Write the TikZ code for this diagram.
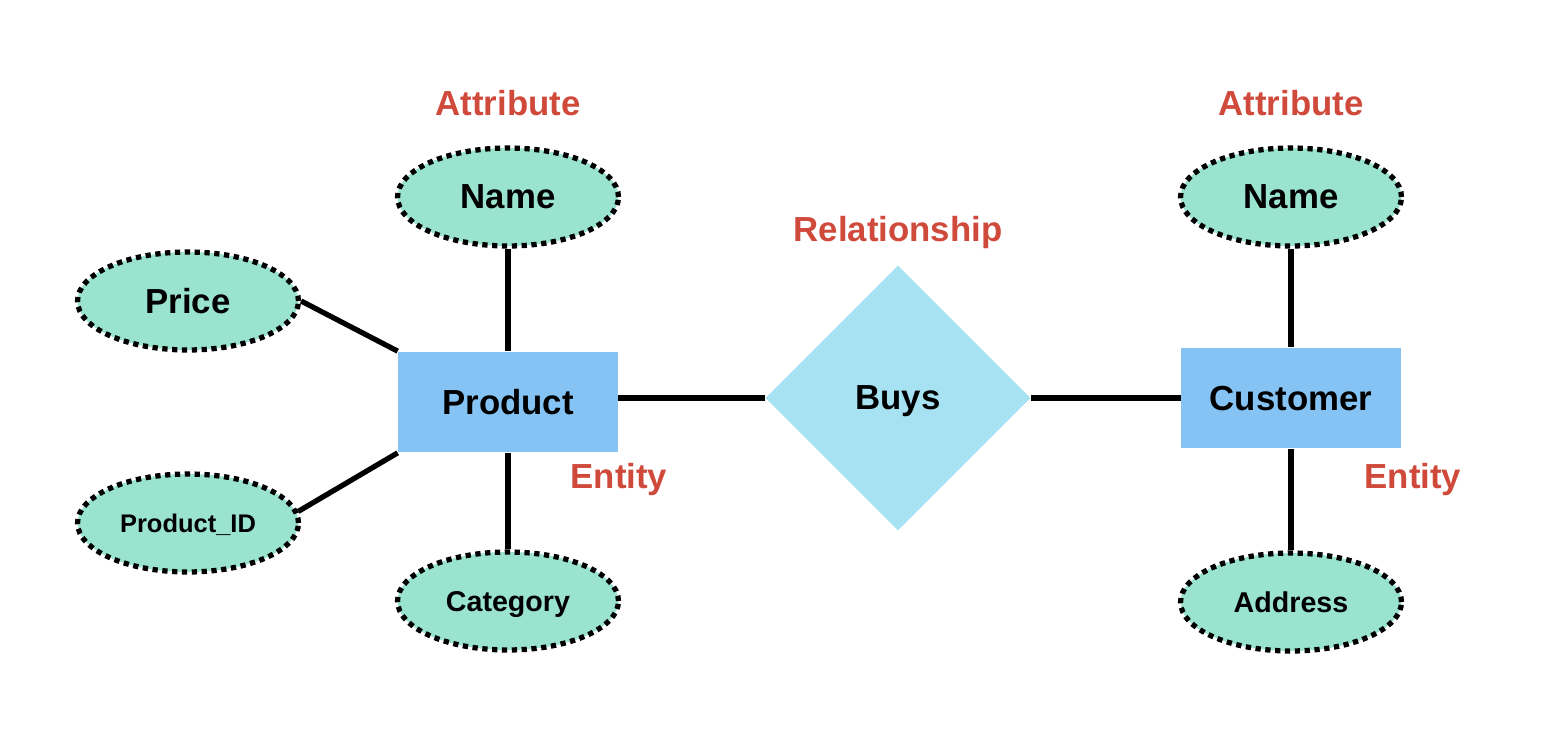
\documentclass[tikz,border=0pt]{standalone}
\usepackage{fontspec}
\setmainfont{Liberation Sans}
\usetikzlibrary{shapes.geometric}
\definecolor{attrgreen}{HTML}{9AE3CF}
\definecolor{entblue}{HTML}{84C3F3}
\definecolor{relblue}{HTML}{A6E2F1}
\definecolor{tagred}{HTML}{D04A3C}

\begin{document}
\begin{tikzpicture}[x=0.02cm, y=-0.02cm,
		every node/.style={font=\bfseries\fontsize{19.8}{22}\selectfont, text depth=0pt},
		attribute/.style={ellipse, draw, fill=attrgreen, line width=3pt,
			dash pattern=on 3pt off 2.6pt, minimum width=4.42cm,
			minimum height=1.96cm, inner sep=0pt},
		entity/.style={rectangle, fill=entblue, minimum width=4.4cm, minimum height=2.02cm},
		relation/.style={diamond, fill=relblue, aspect=1, minimum size=5.3cm, inner sep=0pt},
		tagtext/.style={text=tagred},
		link/.style={line width=3pt}]
		\useasboundingbox (0,0) rectangle (1546,730);
		%
		\node [entity] (product) at (508,402) {Product};
		\node [relation] (buys) at (898,398) {Buys};
		\node [entity] (customer) at (1291,398) {Customer};
		%
		\node [attribute] (pname) at (508,197) {Name};
		\node [attribute] (price) at (188,301) {Price};
		\node [attribute, font=\bfseries\fontsize{14.5}{16}\selectfont] (pid) at (188,523) {Product\_ID};
		\node [attribute, font=\bfseries\fontsize{16.3}{18}\selectfont] (category) at (508,601) {Category};
		\node [attribute] (cname) at (1291,197) {Name};
		\node [attribute, font=\bfseries\fontsize{16.3}{18}\selectfont] (address) at (1291,602) {Address};
		%
		\node [tagtext] (tattr1) at (508,103) {Attribute};
		\node [tagtext] (tattr2) at (1291,103) {Attribute};
		\node [tagtext] (trel) at (898,229) {Relationship};
		\node [tagtext] (tent1) at (619,476) {Entity};
		\node [tagtext] (tent2) at (1413,476) {Entity};
		%
		\draw [link] (pname) -- (product);
		\draw [link] (price.east) -- (product.north west);
		\draw [link] (pid.6) -- (product.south west);
		\draw [link] (product) -- (category);
		\draw [link] (buys.west) -- (buys.west -| product.east);
		\draw [link] (buys.east) -- (customer);
		\draw [link] (cname) -- (customer);
		\draw [link] (customer) -- (address);
	\end{tikzpicture}
\end{document}
